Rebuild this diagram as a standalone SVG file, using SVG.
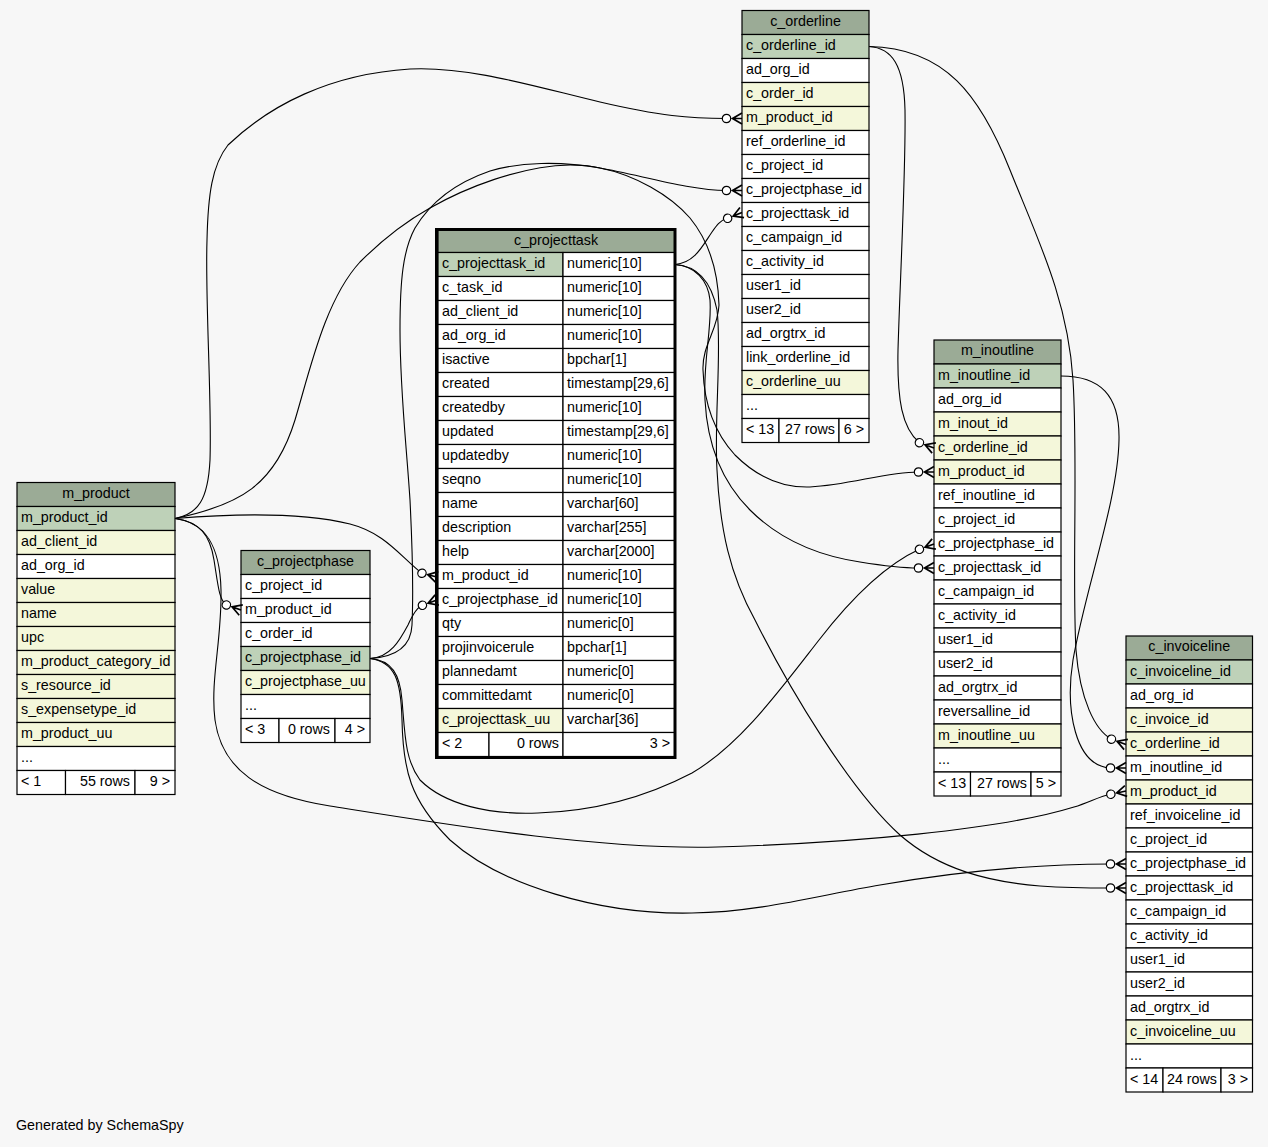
<svg xmlns="http://www.w3.org/2000/svg" width="1268" height="1147" viewBox="0 0 1268 1147">
<defs>
<style>
text{font-family:"Liberation Sans",Arial,Helvetica,sans-serif;font-size:14.3px;fill:#000;transform:translateY(-0.6px)}
.hd{fill:#9bab96;stroke:#000;stroke-width:1.2}
.pk{fill:#bed1b8;stroke:#000;stroke-width:1.2}
.fk{fill:#f4f7da;stroke:#000;stroke-width:1.2}
.w{fill:#fff;stroke:#000;stroke-width:1.2}
.c{text-anchor:middle}
.r{text-anchor:end}
.e{fill:none;stroke:#000;stroke-width:1.1}
.cr{fill:none;stroke:#000;stroke-width:1.7}
.od{fill:#fff;stroke:#000;stroke-width:1.2}
.thick{fill:none;stroke:#000;stroke-width:3}
</style>
<g id="cf"><path class="cr" d="M0,-5.5 L-9.5,0 L0,5.5 M-9.5,0 H0"/><circle class="od" cx="-15.5" cy="0" r="4.2"/></g>
</defs>
<rect x="0" y="0" width="1268" height="1147" fill="#f7f7f7"/>

<g id="m_product">
<rect class="hd" x="17" y="482.5" width="158" height="24"/><text class="c" x="96" y="498.5">m_product</text>
<rect class="pk" x="17" y="506.5" width="158" height="24"/><text x="21" y="523">m_product_id</text>
<rect class="fk" x="17" y="530.5" width="158" height="24"/><text x="21" y="547">ad_client_id</text>
<rect class="w" x="17" y="554.5" width="158" height="24"/><text x="21" y="571">ad_org_id</text>
<rect class="fk" x="17" y="578.5" width="158" height="24"/><text x="21" y="595">value</text>
<rect class="fk" x="17" y="602.5" width="158" height="24"/><text x="21" y="619">name</text>
<rect class="fk" x="17" y="626.5" width="158" height="24"/><text x="21" y="643">upc</text>
<rect class="fk" x="17" y="650.5" width="158" height="24"/><text x="21" y="667">m_product_category_id</text>
<rect class="fk" x="17" y="674.5" width="158" height="24"/><text x="21" y="691">s_resource_id</text>
<rect class="fk" x="17" y="698.5" width="158" height="24"/><text x="21" y="715">s_expensetype_id</text>
<rect class="fk" x="17" y="722.5" width="158" height="24"/><text x="21" y="739">m_product_uu</text>
<rect class="w" x="17" y="746.5" width="158" height="24"/><text x="21" y="763">...</text>
<rect class="w" x="17" y="770.5" width="48.5" height="24"/><text x="21" y="787">&lt; 1</text>
<rect class="w" x="65.5" y="770.5" width="69.5" height="24"/><text class="r" x="130" y="787">55 rows</text>
<rect class="w" x="135" y="770.5" width="40" height="24"/><text class="r" x="170" y="787">9 &gt;</text>
</g>

<g id="c_projectphase">
<rect class="hd" x="241" y="550.5" width="129" height="24"/><text class="c" x="305.5" y="566.5">c_projectphase</text>
<rect class="w" x="241" y="574.5" width="129" height="24"/><text x="245" y="591">c_project_id</text>
<rect class="w" x="241" y="598.5" width="129" height="24"/><text x="245" y="615">m_product_id</text>
<rect class="w" x="241" y="622.5" width="129" height="24"/><text x="245" y="639">c_order_id</text>
<rect class="pk" x="241" y="646.5" width="129" height="24"/><text x="245" y="663">c_projectphase_id</text>
<rect class="fk" x="241" y="670.5" width="129" height="24"/><text x="245" y="687">c_projectphase_uu</text>
<rect class="w" x="241" y="694.5" width="129" height="24"/><text x="245" y="711">...</text>
<rect class="w" x="241" y="718.5" width="38" height="24"/><text x="245" y="735">&lt; 3</text>
<rect class="w" x="279" y="718.5" width="56" height="24"/><text class="r" x="330" y="735">0 rows</text>
<rect class="w" x="335" y="718.5" width="35" height="24"/><text class="r" x="365" y="735">4 &gt;</text>
</g>

<g id="c_projecttask">
<rect class="hd" x="438" y="229.5" width="237" height="23"/><text class="c" x="556" y="246">c_projecttask</text>
<rect class="pk" x="438" y="252.5" width="125" height="24"/><text x="442" y="269">c_projecttask_id</text>
<rect class="w" x="563" y="252.5" width="112" height="24"/><text x="567" y="269">numeric[10]</text>
<rect class="w" x="438" y="276.5" width="125" height="24"/><text x="442" y="293">c_task_id</text>
<rect class="w" x="563" y="276.5" width="112" height="24"/><text x="567" y="293">numeric[10]</text>
<rect class="w" x="438" y="300.5" width="125" height="24"/><text x="442" y="317">ad_client_id</text>
<rect class="w" x="563" y="300.5" width="112" height="24"/><text x="567" y="317">numeric[10]</text>
<rect class="w" x="438" y="324.5" width="125" height="24"/><text x="442" y="341">ad_org_id</text>
<rect class="w" x="563" y="324.5" width="112" height="24"/><text x="567" y="341">numeric[10]</text>
<rect class="w" x="438" y="348.5" width="125" height="24"/><text x="442" y="365">isactive</text>
<rect class="w" x="563" y="348.5" width="112" height="24"/><text x="567" y="365">bpchar[1]</text>
<rect class="w" x="438" y="372.5" width="125" height="24"/><text x="442" y="389">created</text>
<rect class="w" x="563" y="372.5" width="112" height="24"/><text x="567" y="389">timestamp[29,6]</text>
<rect class="w" x="438" y="396.5" width="125" height="24"/><text x="442" y="413">createdby</text>
<rect class="w" x="563" y="396.5" width="112" height="24"/><text x="567" y="413">numeric[10]</text>
<rect class="w" x="438" y="420.5" width="125" height="24"/><text x="442" y="437">updated</text>
<rect class="w" x="563" y="420.5" width="112" height="24"/><text x="567" y="437">timestamp[29,6]</text>
<rect class="w" x="438" y="444.5" width="125" height="24"/><text x="442" y="461">updatedby</text>
<rect class="w" x="563" y="444.5" width="112" height="24"/><text x="567" y="461">numeric[10]</text>
<rect class="w" x="438" y="468.5" width="125" height="24"/><text x="442" y="485">seqno</text>
<rect class="w" x="563" y="468.5" width="112" height="24"/><text x="567" y="485">numeric[10]</text>
<rect class="w" x="438" y="492.5" width="125" height="24"/><text x="442" y="509">name</text>
<rect class="w" x="563" y="492.5" width="112" height="24"/><text x="567" y="509">varchar[60]</text>
<rect class="w" x="438" y="516.5" width="125" height="24"/><text x="442" y="533">description</text>
<rect class="w" x="563" y="516.5" width="112" height="24"/><text x="567" y="533">varchar[255]</text>
<rect class="w" x="438" y="540.5" width="125" height="24"/><text x="442" y="557">help</text>
<rect class="w" x="563" y="540.5" width="112" height="24"/><text x="567" y="557">varchar[2000]</text>
<rect class="w" x="438" y="564.5" width="125" height="24"/><text x="442" y="581">m_product_id</text>
<rect class="w" x="563" y="564.5" width="112" height="24"/><text x="567" y="581">numeric[10]</text>
<rect class="w" x="438" y="588.5" width="125" height="24"/><text x="442" y="605">c_projectphase_id</text>
<rect class="w" x="563" y="588.5" width="112" height="24"/><text x="567" y="605">numeric[10]</text>
<rect class="w" x="438" y="612.5" width="125" height="24"/><text x="442" y="629">qty</text>
<rect class="w" x="563" y="612.5" width="112" height="24"/><text x="567" y="629">numeric[0]</text>
<rect class="w" x="438" y="636.5" width="125" height="24"/><text x="442" y="653">projinvoicerule</text>
<rect class="w" x="563" y="636.5" width="112" height="24"/><text x="567" y="653">bpchar[1]</text>
<rect class="w" x="438" y="660.5" width="125" height="24"/><text x="442" y="677">plannedamt</text>
<rect class="w" x="563" y="660.5" width="112" height="24"/><text x="567" y="677">numeric[0]</text>
<rect class="w" x="438" y="684.5" width="125" height="24"/><text x="442" y="701">committedamt</text>
<rect class="w" x="563" y="684.5" width="112" height="24"/><text x="567" y="701">numeric[0]</text>
<rect class="fk" x="438" y="708.5" width="125" height="24"/><text x="442" y="725">c_projecttask_uu</text>
<rect class="w" x="563" y="708.5" width="112" height="24"/><text x="567" y="725">varchar[36]</text>
<rect class="w" x="438" y="732.5" width="51" height="24"/><text x="442" y="749">&lt; 2</text>
<rect class="w" x="489" y="732.5" width="74" height="24"/><text class="r" x="559" y="749">0 rows</text>
<rect class="w" x="563" y="732.5" width="112" height="24"/><text class="r" x="670" y="749">3 &gt;</text>
<rect class="thick" x="436.5" y="229.5" width="238.5" height="528"/>
</g>

<g id="c_orderline">
<rect class="hd" x="742" y="10.5" width="127" height="24"/><text class="c" x="805.5" y="26.5">c_orderline</text>
<rect class="pk" x="742" y="34.5" width="127" height="24"/><text x="746" y="51">c_orderline_id</text>
<rect class="w" x="742" y="58.5" width="127" height="24"/><text x="746" y="75">ad_org_id</text>
<rect class="fk" x="742" y="82.5" width="127" height="24"/><text x="746" y="99">c_order_id</text>
<rect class="fk" x="742" y="106.5" width="127" height="24"/><text x="746" y="123">m_product_id</text>
<rect class="w" x="742" y="130.5" width="127" height="24"/><text x="746" y="147">ref_orderline_id</text>
<rect class="w" x="742" y="154.5" width="127" height="24"/><text x="746" y="171">c_project_id</text>
<rect class="w" x="742" y="178.5" width="127" height="24"/><text x="746" y="195">c_projectphase_id</text>
<rect class="w" x="742" y="202.5" width="127" height="24"/><text x="746" y="219">c_projecttask_id</text>
<rect class="w" x="742" y="226.5" width="127" height="24"/><text x="746" y="243">c_campaign_id</text>
<rect class="w" x="742" y="250.5" width="127" height="24"/><text x="746" y="267">c_activity_id</text>
<rect class="w" x="742" y="274.5" width="127" height="24"/><text x="746" y="291">user1_id</text>
<rect class="w" x="742" y="298.5" width="127" height="24"/><text x="746" y="315">user2_id</text>
<rect class="w" x="742" y="322.5" width="127" height="24"/><text x="746" y="339">ad_orgtrx_id</text>
<rect class="w" x="742" y="346.5" width="127" height="24"/><text x="746" y="363">link_orderline_id</text>
<rect class="fk" x="742" y="370.5" width="127" height="24"/><text x="746" y="387">c_orderline_uu</text>
<rect class="w" x="742" y="394.5" width="127" height="24"/><text x="746" y="411">...</text>
<rect class="w" x="742" y="418.5" width="37" height="24"/><text x="746" y="435">&lt; 13</text>
<rect class="w" x="779" y="418.5" width="60" height="24"/><text class="r" x="835" y="435">27 rows</text>
<rect class="w" x="839" y="418.5" width="30" height="24"/><text class="r" x="864" y="435">6 &gt;</text>
</g>

<g id="m_inoutline">
<rect class="hd" x="934" y="340" width="127" height="24"/><text class="c" x="997.5" y="356">m_inoutline</text>
<rect class="pk" x="934" y="364" width="127" height="24"/><text x="938" y="380.5">m_inoutline_id</text>
<rect class="w" x="934" y="388" width="127" height="24"/><text x="938" y="404.5">ad_org_id</text>
<rect class="fk" x="934" y="412" width="127" height="24"/><text x="938" y="428.5">m_inout_id</text>
<rect class="fk" x="934" y="436" width="127" height="24"/><text x="938" y="452.5">c_orderline_id</text>
<rect class="fk" x="934" y="460" width="127" height="24"/><text x="938" y="476.5">m_product_id</text>
<rect class="w" x="934" y="484" width="127" height="24"/><text x="938" y="500.5">ref_inoutline_id</text>
<rect class="w" x="934" y="508" width="127" height="24"/><text x="938" y="524.5">c_project_id</text>
<rect class="w" x="934" y="532" width="127" height="24"/><text x="938" y="548.5">c_projectphase_id</text>
<rect class="w" x="934" y="556" width="127" height="24"/><text x="938" y="572.5">c_projecttask_id</text>
<rect class="w" x="934" y="580" width="127" height="24"/><text x="938" y="596.5">c_campaign_id</text>
<rect class="w" x="934" y="604" width="127" height="24"/><text x="938" y="620.5">c_activity_id</text>
<rect class="w" x="934" y="628" width="127" height="24"/><text x="938" y="644.5">user1_id</text>
<rect class="w" x="934" y="652" width="127" height="24"/><text x="938" y="668.5">user2_id</text>
<rect class="w" x="934" y="676" width="127" height="24"/><text x="938" y="692.5">ad_orgtrx_id</text>
<rect class="w" x="934" y="700" width="127" height="24"/><text x="938" y="716.5">reversalline_id</text>
<rect class="fk" x="934" y="724" width="127" height="24"/><text x="938" y="740.5">m_inoutline_uu</text>
<rect class="w" x="934" y="748" width="127" height="24"/><text x="938" y="764.5">...</text>
<rect class="w" x="934" y="772" width="36.5" height="24"/><text x="938" y="788.5">&lt; 13</text>
<rect class="w" x="970.5" y="772" width="60.5" height="24"/><text class="r" x="1027" y="788.5">27 rows</text>
<rect class="w" x="1031" y="772" width="30" height="24"/><text class="r" x="1056" y="788.5">5 &gt;</text>
</g>

<g id="c_invoiceline">
<rect class="hd" x="1126" y="636" width="126.5" height="24"/><text class="c" x="1189.25" y="652">c_invoiceline</text>
<rect class="pk" x="1126" y="660" width="126.5" height="24"/><text x="1130" y="676.5">c_invoiceline_id</text>
<rect class="w" x="1126" y="684" width="126.5" height="24"/><text x="1130" y="700.5">ad_org_id</text>
<rect class="fk" x="1126" y="708" width="126.5" height="24"/><text x="1130" y="724.5">c_invoice_id</text>
<rect class="fk" x="1126" y="732" width="126.5" height="24"/><text x="1130" y="748.5">c_orderline_id</text>
<rect class="w" x="1126" y="756" width="126.5" height="24"/><text x="1130" y="772.5">m_inoutline_id</text>
<rect class="fk" x="1126" y="780" width="126.5" height="24"/><text x="1130" y="796.5">m_product_id</text>
<rect class="w" x="1126" y="804" width="126.5" height="24"/><text x="1130" y="820.5">ref_invoiceline_id</text>
<rect class="w" x="1126" y="828" width="126.5" height="24"/><text x="1130" y="844.5">c_project_id</text>
<rect class="w" x="1126" y="852" width="126.5" height="24"/><text x="1130" y="868.5">c_projectphase_id</text>
<rect class="w" x="1126" y="876" width="126.5" height="24"/><text x="1130" y="892.5">c_projecttask_id</text>
<rect class="w" x="1126" y="900" width="126.5" height="24"/><text x="1130" y="916.5">c_campaign_id</text>
<rect class="w" x="1126" y="924" width="126.5" height="24"/><text x="1130" y="940.5">c_activity_id</text>
<rect class="w" x="1126" y="948" width="126.5" height="24"/><text x="1130" y="964.5">user1_id</text>
<rect class="w" x="1126" y="972" width="126.5" height="24"/><text x="1130" y="988.5">user2_id</text>
<rect class="w" x="1126" y="996" width="126.5" height="24"/><text x="1130" y="1012.5">ad_orgtrx_id</text>
<rect class="fk" x="1126" y="1020" width="126.5" height="24"/><text x="1130" y="1036.5">c_invoiceline_uu</text>
<rect class="w" x="1126" y="1044" width="126.5" height="24"/><text x="1130" y="1060.5">...</text>
<rect class="w" x="1126" y="1068" width="37" height="24"/><text x="1130" y="1084.5">&lt; 14</text>
<rect class="w" x="1163" y="1068" width="58" height="24"/><text class="r" x="1217" y="1084.5">24 rows</text>
<rect class="w" x="1221" y="1068" width="31.5" height="24"/><text class="r" x="1248" y="1084.5">3 &gt;</text>
</g>

<g id="connectors">
<path class="e" d="M175,518.5 C198,514 208,500 210,460 C212,400 205,300 207,240 C208,195 212,165 228,145 C270,105 330,74 410,69 C470,66 540,88 600,102 C660,116 690,118.5 726.5,118.5"/>
<path class="e" d="M175,518.5 C200,522 210,535 214,560 C218,585 219,600 226.3,605"/>
<path class="e" d="M175,518.5 C230,514 300,512 350,524 C385,533 400,556 422,573.3"/>
<path class="e" d="M175,518.5 C240,505 275,485 295,420 C310,370 325,300 360,262 C385,237 405,222 430,208 C465,188 520,166 570,165 C582,165 592,166 600,168 C635,175 670,195 690,218 C708,240 718,270 719,305 C718,330 702,345 703,370 C704,400 712,430 735,455 C755,475 780,488 810,487 C850,485 885,472 918.5,472"/>
<path class="e" d="M175,518.5 C205,522 220,545 221,590 C222,640 210,680 215,720 C222,770 260,795 330,806 C450,825 600,850 717,847 C850,843 1000,830 1074,807 C1090,802 1100,796 1110.8,794.2"/>
<path class="e" d="M370,658.5 C390,658 400,640 408,625 C413,614 417,607 422.4,605.3"/>
<path class="e" d="M370,658.5 C395,657 411,648 412,625 C414,580 412,540 410,500 C406,440 400,390 400,330 C400,280 403,250 415,228 C430,203 455,183 490,171 C520,162 560,161 600,168 C640,175 690,190.5 726.5,190.5"/>
<path class="e" d="M370,658.5 C392,660 400,675 402,700 C405,735 405,760 420,780 C445,805 490,815 538,813 C600,811 650,795 692,773 C740,745 780,690 819,640 C850,600 885,565 919.4,549.3"/>
<path class="e" d="M370,658.5 C395,662 401,680 402,720 C403,770 410,800 450,840 C500,885 600,915 692,913 C760,912 820,895 880,885 C950,873 1030,864 1110.5,864"/>
<path class="e" d="M675,264.5 C695,263 703,245 712,232 C716,226 720,220 727.6,218.3"/>
<path class="e" d="M675,264.5 C695,266 708,280 710,300 C712,330 703,360 705,400 C707,440 720,480 750,510 C780,540 820,556 860,562 C885,566 900,568 918.5,568"/>
<path class="e" d="M675,264.5 C700,266 712,285 717,310 C722,350 714,420 717,470 C720,530 730,575 755,620 C790,690 850,790 900,835 C940,870 990,882 1040,886 C1070,888 1090,888 1110.5,888"/>
<path class="e" d="M869,46.5 C892,48 904,65 905,110 C906,170 900,280 898,350 C897,400 902,428 919.4,442.7"/>
<path class="e" d="M869,46.5 C945,48 980,95 1010,170 C1038,240 1068,300 1073,380 C1078,460 1072,580 1076,650 C1080,700 1095,730 1111.4,739.2"/>
<path class="e" d="M1061,376 C1100,376 1120,395 1119,440 C1118,500 1085,590 1073,660 C1065,710 1075,766 1110.5,768"/>
<use href="#cf" transform="translate(742,118.5)"/>
<use href="#cf" transform="translate(742,190.5)"/>
<use href="#cf" transform="translate(742,212.5) rotate(-22)"/>
<use href="#cf" transform="translate(241,610) rotate(19)"/>
<use href="#cf" transform="translate(437,577) rotate(14)"/>
<use href="#cf" transform="translate(437,600) rotate(-20)"/>
<use href="#cf" transform="translate(934,448) rotate(20)"/>
<use href="#cf" transform="translate(934,472)"/>
<use href="#cf" transform="translate(934,544) rotate(-20)"/>
<use href="#cf" transform="translate(934,568)"/>
<use href="#cf" transform="translate(1126,744.5) rotate(20)"/>
<use href="#cf" transform="translate(1126,768)"/>
<use href="#cf" transform="translate(1126,791) rotate(-12)"/>
<use href="#cf" transform="translate(1126,864)"/>
<use href="#cf" transform="translate(1126,888)"/>
</g>

<text x="16" y="1131">Generated by SchemaSpy</text>
</svg>
